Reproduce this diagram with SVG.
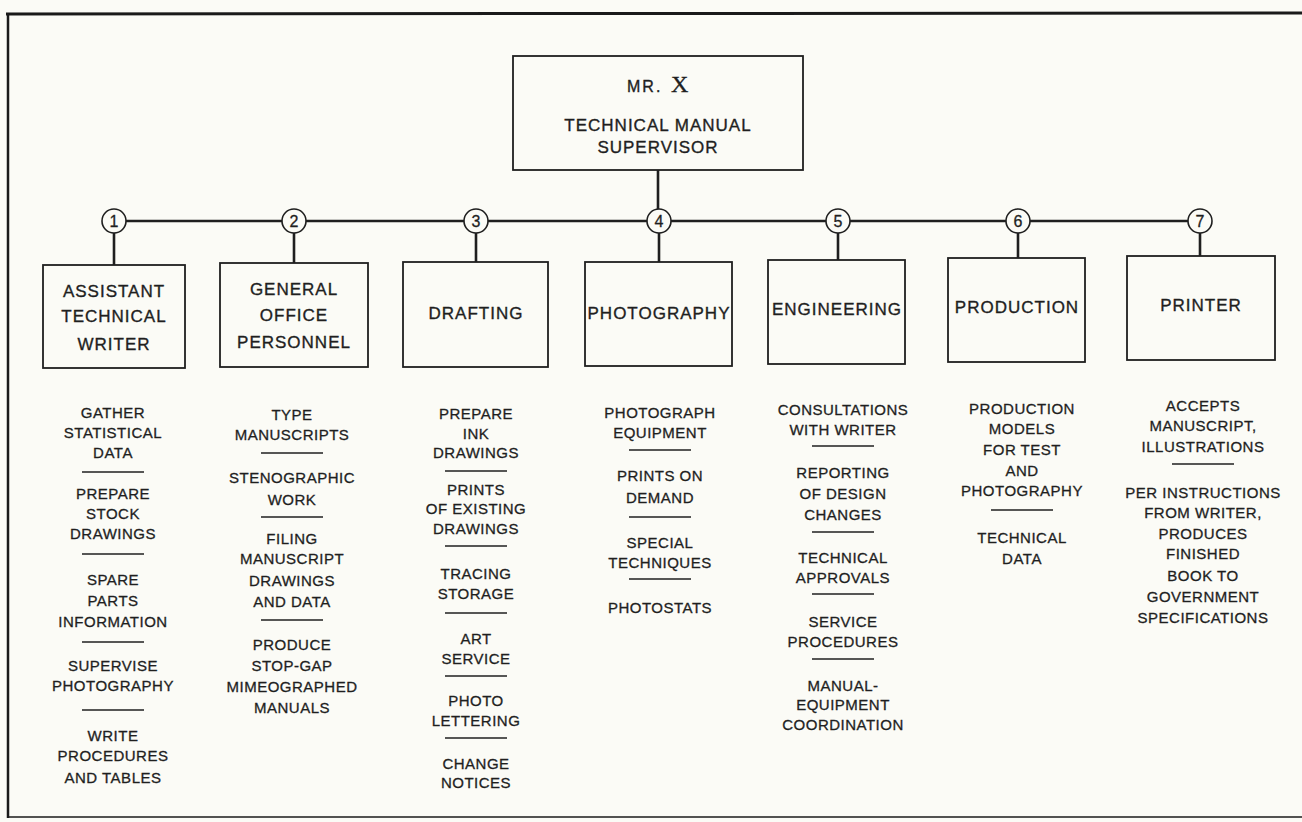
<svg xmlns="http://www.w3.org/2000/svg" width="1302" height="822" viewBox="0 0 1302 822">
<style>
.bg{fill:#fbfbf6}
.frame{stroke:#1a1a1a;fill:none}
.box{fill:none;stroke:#1f1f1f;stroke-width:1.8}
.conn{stroke:#1f1f1f;stroke-width:2.6;fill:none}
.circ{fill:#fbfbf6;stroke:#1f1f1f;stroke-width:1.6}
.num{font-family:"Liberation Sans",Arial,sans-serif;font-size:16px;fill:#1f1f1f;stroke:#1f1f1f;stroke-width:0.3;text-anchor:middle}
.bt{font-family:"Liberation Sans",Arial,sans-serif;font-size:17px;fill:#1f1f1f;stroke:#1f1f1f;stroke-width:0.35;text-anchor:middle;letter-spacing:1px}
.lt{font-family:"Liberation Sans",Arial,sans-serif;font-size:15px;fill:#1f1f1f;stroke:#1f1f1f;stroke-width:0.3;text-anchor:middle;letter-spacing:0.5px}
.div{stroke:#1f1f1f;stroke-width:1.6}
</style>
<rect class="bg" x="0" y="0" width="1302" height="822"/>
<g id="frame">
<line class="frame" x1="6" y1="14" x2="1302" y2="13" stroke-width="3"/>
<line class="frame" x1="8" y1="13" x2="8" y2="818" stroke-width="2.5"/>
<line class="frame" x1="8" y1="817" x2="1302" y2="817" stroke-width="1.6"/>
</g>
<g id="connectors">
<line class="conn" x1="658" y1="170" x2="658" y2="221"/>
<line class="conn" x1="114" y1="221" x2="1200" y2="221"/>
<line class="conn" x1="114" y1="233" x2="114" y2="265"/>
<line class="conn" x1="294" y1="233" x2="294" y2="263"/>
<line class="conn" x1="476" y1="233" x2="476" y2="262"/>
<line class="conn" x1="659" y1="233" x2="659" y2="262"/>
<line class="conn" x1="838" y1="233" x2="838" y2="260"/>
<line class="conn" x1="1018" y1="233" x2="1018" y2="258"/>
<line class="conn" x1="1200" y1="233" x2="1200" y2="256"/>
</g>
<g id="node-supervisor">
<rect class="box" x="513" y="56" width="290" height="114"/>
<text x="627" y="92" font-family="'Liberation Sans',Arial,sans-serif" font-size="16" letter-spacing="2" fill="#1f1f1f" stroke="#1f1f1f" stroke-width="0.35">MR.<tspan x="671" font-family="'Liberation Serif','Times New Roman',serif" font-size="24" letter-spacing="0">X</tspan></text>
<text class="bt" x="658" y="131" letter-spacing="1.2">TECHNICAL MANUAL</text>
<text class="bt" x="658" y="153" letter-spacing="2">SUPERVISOR</text>
</g>
<g id="node-1">
<circle class="circ" cx="114" cy="221" r="12"/><text class="num" x="114" y="227">1</text>
<rect class="box" x="43" y="265" width="142" height="103"/>
<text class="bt" x="114" y="297">ASSISTANT</text>
<text class="bt" x="114" y="322">TECHNICAL</text>
<text class="bt" x="114" y="350">WRITER</text>
<text class="lt" x="113" y="417.5">GATHER</text>
<text class="lt" x="113" y="437.5">STATISTICAL</text>
<text class="lt" x="113" y="457.5">DATA</text>
<line class="div" x1="82" y1="472" x2="144" y2="472"/>
<text class="lt" x="113" y="498.5">PREPARE</text>
<text class="lt" x="113" y="518.5">STOCK</text>
<text class="lt" x="113" y="538.5">DRAWINGS</text>
<line class="div" x1="82" y1="554" x2="144" y2="554"/>
<text class="lt" x="113" y="584.5">SPARE</text>
<text class="lt" x="113" y="605.5">PARTS</text>
<text class="lt" x="113" y="626.5">INFORMATION</text>
<line class="div" x1="82" y1="642" x2="144" y2="642"/>
<text class="lt" x="113" y="670.5">SUPERVISE</text>
<text class="lt" x="113" y="690.5">PHOTOGRAPHY</text>
<line class="div" x1="82" y1="710" x2="144" y2="710"/>
<text class="lt" x="113" y="740.5">WRITE</text>
<text class="lt" x="113" y="760.5">PROCEDURES</text>
<text class="lt" x="113" y="782.5">AND TABLES</text>
</g>
<g id="node-2">
<circle class="circ" cx="294" cy="221" r="12"/><text class="num" x="294" y="227">2</text>
<rect class="box" x="220" y="263" width="148" height="104"/>
<text class="bt" x="294" y="295">GENERAL</text>
<text class="bt" x="294" y="321">OFFICE</text>
<text class="bt" x="294" y="348">PERSONNEL</text>
<text class="lt" x="292" y="419.5">TYPE</text>
<text class="lt" x="292" y="439.5">MANUSCRIPTS</text>
<line class="div" x1="261" y1="453" x2="323" y2="453"/>
<text class="lt" x="292" y="482.5">STENOGRAPHIC</text>
<text class="lt" x="292" y="504.5">WORK</text>
<line class="div" x1="261" y1="517" x2="323" y2="517"/>
<text class="lt" x="292" y="543.5">FILING</text>
<text class="lt" x="292" y="563.5">MANUSCRIPT</text>
<text class="lt" x="292" y="585.5">DRAWINGS</text>
<text class="lt" x="292" y="606.5">AND DATA</text>
<line class="div" x1="261" y1="620" x2="323" y2="620"/>
<text class="lt" x="292" y="649.5">PRODUCE</text>
<text class="lt" x="292" y="670.5">STOP-GAP</text>
<text class="lt" x="292" y="691.5">MIMEOGRAPHED</text>
<text class="lt" x="292" y="712.5">MANUALS</text>
</g>
<g id="node-3">
<circle class="circ" cx="476" cy="221" r="12"/><text class="num" x="476" y="227">3</text>
<rect class="box" x="403" y="262" width="145" height="105"/>
<text class="bt" x="476" y="319">DRAFTING</text>
<text class="lt" x="476" y="418.5">PREPARE</text>
<text class="lt" x="476" y="438.5">INK</text>
<text class="lt" x="476" y="457.5">DRAWINGS</text>
<line class="div" x1="445" y1="471" x2="507" y2="471"/>
<text class="lt" x="476" y="494.5">PRINTS</text>
<text class="lt" x="476" y="513.5">OF EXISTING</text>
<text class="lt" x="476" y="533.5">DRAWINGS</text>
<line class="div" x1="445" y1="546" x2="507" y2="546"/>
<text class="lt" x="476" y="578.5">TRACING</text>
<text class="lt" x="476" y="598.5">STORAGE</text>
<line class="div" x1="445" y1="613" x2="507" y2="613"/>
<text class="lt" x="476" y="643.5">ART</text>
<text class="lt" x="476" y="663.5">SERVICE</text>
<line class="div" x1="445" y1="676" x2="507" y2="676"/>
<text class="lt" x="476" y="705.5">PHOTO</text>
<text class="lt" x="476" y="725.5">LETTERING</text>
<line class="div" x1="445" y1="738" x2="507" y2="738"/>
<text class="lt" x="476" y="768.5">CHANGE</text>
<text class="lt" x="476" y="787.5">NOTICES</text>
</g>
<g id="node-4">
<circle class="circ" cx="659" cy="221" r="12"/><text class="num" x="659" y="227">4</text>
<rect class="box" x="585" y="262" width="147" height="104"/>
<text class="bt" x="659" y="319" letter-spacing="0.4">PHOTOGRAPHY</text>
<text class="lt" x="660" y="417.5">PHOTOGRAPH</text>
<text class="lt" x="660" y="437.5">EQUIPMENT</text>
<line class="div" x1="629" y1="450" x2="691" y2="450"/>
<text class="lt" x="660" y="480.5">PRINTS ON</text>
<text class="lt" x="660" y="502.5">DEMAND</text>
<line class="div" x1="629" y1="517" x2="691" y2="517"/>
<text class="lt" x="660" y="547.5">SPECIAL</text>
<text class="lt" x="660" y="567.5">TECHNIQUES</text>
<line class="div" x1="629" y1="579" x2="691" y2="579"/>
<text class="lt" x="660" y="612.5">PHOTOSTATS</text>
</g>
<g id="node-5">
<circle class="circ" cx="838" cy="221" r="12"/><text class="num" x="838" y="227">5</text>
<rect class="box" x="768" y="260" width="137" height="104"/>
<text class="bt" x="837" y="315" letter-spacing="0.3">ENGINEERING</text>
<text class="lt" x="843" y="414.5">CONSULTATIONS</text>
<text class="lt" x="843" y="434.5">WITH WRITER</text>
<line class="div" x1="812" y1="446" x2="874" y2="446"/>
<text class="lt" x="843" y="477.5">REPORTING</text>
<text class="lt" x="843" y="498.5">OF DESIGN</text>
<text class="lt" x="843" y="519.5">CHANGES</text>
<line class="div" x1="812" y1="532" x2="874" y2="532"/>
<text class="lt" x="843" y="562.5">TECHNICAL</text>
<text class="lt" x="843" y="582.5">APPROVALS</text>
<line class="div" x1="812" y1="594" x2="874" y2="594"/>
<text class="lt" x="843" y="626.5">SERVICE</text>
<text class="lt" x="843" y="646.5">PROCEDURES</text>
<line class="div" x1="812" y1="659" x2="874" y2="659"/>
<text class="lt" x="843" y="690.5">MANUAL-</text>
<text class="lt" x="843" y="709.5">EQUIPMENT</text>
<text class="lt" x="843" y="729.5">COORDINATION</text>
</g>
<g id="node-6">
<circle class="circ" cx="1018" cy="221" r="12"/><text class="num" x="1018" y="227">6</text>
<rect class="box" x="948" y="258" width="137" height="104"/>
<text class="bt" x="1017" y="313">PRODUCTION</text>
<text class="lt" x="1022" y="413.5">PRODUCTION</text>
<text class="lt" x="1022" y="433.5">MODELS</text>
<text class="lt" x="1022" y="454.5">FOR TEST</text>
<text class="lt" x="1022" y="475.5">AND</text>
<text class="lt" x="1022" y="495.5">PHOTOGRAPHY</text>
<line class="div" x1="991" y1="510" x2="1053" y2="510"/>
<text class="lt" x="1022" y="542.5">TECHNICAL</text>
<text class="lt" x="1022" y="563.5">DATA</text>
</g>
<g id="node-7">
<circle class="circ" cx="1200" cy="221" r="12"/><text class="num" x="1200" y="227">7</text>
<rect class="box" x="1127" y="256" width="148" height="104"/>
<text class="bt" x="1201" y="311" letter-spacing="1.8">PRINTER</text>
<text class="lt" x="1203" y="410.5">ACCEPTS</text>
<text class="lt" x="1203" y="430.5">MANUSCRIPT,</text>
<text class="lt" x="1203" y="451.5">ILLUSTRATIONS</text>
<line class="div" x1="1172" y1="464" x2="1234" y2="464"/>
<text class="lt" x="1203" y="497.5">PER INSTRUCTIONS</text>
<text class="lt" x="1203" y="517.5">FROM WRITER,</text>
<text class="lt" x="1203" y="538.5">PRODUCES</text>
<text class="lt" x="1203" y="558.5">FINISHED</text>
<text class="lt" x="1203" y="580.5">BOOK TO</text>
<text class="lt" x="1203" y="601.5">GOVERNMENT</text>
<text class="lt" x="1203" y="622.5">SPECIFICATIONS</text>
</g>
</svg>
